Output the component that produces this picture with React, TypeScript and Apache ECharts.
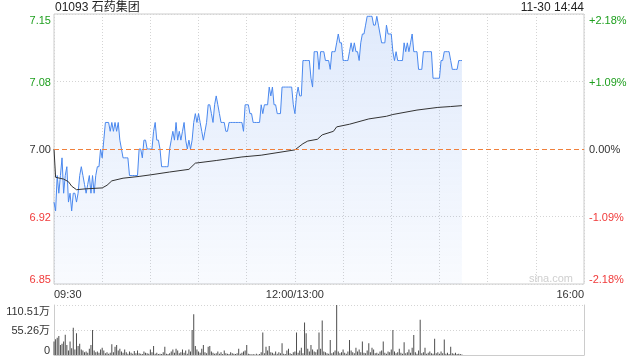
import React, { useEffect, useRef } from "react";
import * as echarts from "echarts";

// ---------- data ----------
const stockTitle = "01093 石药集团";
const stampText = "11-30 14:44";
const prevClose = 7.0;
const timeTickLabels: Record<number, string> = { 0: "09:30", 150: "12:00/13:00", 330: "16:00" };
const volTickLabels = ["0", "55.26万", "110.51万"];
const volMax = 110.51;

// one value per minute (index 0 = 09:30, 150 = 12:00/13:00)
const prices = [
  6.94, 6.93, 6.97, 6.95, 6.97, 6.99, 6.95, 6.97, 6.98, 6.94,
  6.95, 6.93, 6.95, 6.95, 6.94, 6.95, 6.97, 6.98, 6.97, 6.96,
  6.95, 6.96, 6.97, 6.95, 6.97, 6.95, 6.97, 6.98, 6.98, 7.0,
  6.99, 7.01, 7.03, 7.03, 7.03, 7.02, 7.03, 7.02, 7.03, 7.02,
  7.03, 7.01, 7.0, 6.99, 6.99, 6.99, 6.99, 6.97, 6.97, 6.97,
  6.97, 6.97, 6.97, 7.0, 7.0, 6.99, 7.01, 7.01, 7.0, 7.0,
  7.0, 7.0, 7.02, 7.03, 7.01, 7.01, 7.0, 6.98, 6.98, 6.98,
  6.98, 6.98, 7.0, 7.01, 7.02, 7.01, 7.03, 7.01, 7.02, 7.01,
  7.02, 7.03, 7.01, 7.0, 7.01, 7.0, 7.01, 7.03, 7.04, 7.03,
  7.04, 7.03, 7.02, 7.01, 7.02, 7.03, 7.05, 7.05, 7.04, 7.03,
  7.05, 7.06, 7.05, 7.04, 7.03, 7.03, 7.03, 7.02, 7.02, 7.03,
  7.03, 7.03, 7.03, 7.03, 7.03, 7.03, 7.03, 7.03, 7.02, 7.05,
  7.05, 7.05, 7.04, 7.04, 7.03, 7.03, 7.03, 7.03, 7.03, 7.05,
  7.04, 7.05, 7.05, 7.05, 7.07, 7.06, 7.07, 7.05, 7.05, 7.04,
  7.04, 7.04, 7.07, 7.07, 7.07, 7.07, 7.07, 7.07, 7.07, 7.05,
  7.04, 7.06, 7.07, 7.06, 7.06, 7.1, 7.1, 7.1, 7.1, 7.1,
  7.08, 7.07, 7.11, 7.11, 7.11, 7.09, 7.11, 7.11, 7.11, 7.1,
  7.1, 7.1, 7.09, 7.11, 7.11, 7.11, 7.12, 7.13, 7.12, 7.12,
  7.1, 7.1, 7.1, 7.1, 7.11, 7.12, 7.11, 7.12, 7.11, 7.11,
  7.1, 7.12, 7.13, 7.13, 7.14, 7.15, 7.15, 7.15, 7.15, 7.14,
  7.14, 7.15, 7.14, 7.13, 7.12, 7.12, 7.12, 7.14, 7.13, 7.13,
  7.13, 7.11, 7.1, 7.11, 7.1, 7.1, 7.1, 7.1, 7.12, 7.11,
  7.12, 7.11, 7.12, 7.13, 7.11, 7.11, 7.11, 7.09, 7.09, 7.09,
  7.11, 7.11, 7.11, 7.11, 7.11, 7.11, 7.08, 7.08, 7.08, 7.08,
  7.08, 7.1, 7.1, 7.11, 7.11, 7.11, 7.11, 7.1, 7.09, 7.09,
  7.09, 7.09, 7.1, 7.1, 7.1,
];

// average price line, read at [minute, price]
const avgPoints: [number, number][] = [
  [0, 7.0], [1, 6.968], [6, 6.966], [9, 6.963], [11, 6.958], [14, 6.954],
  [20, 6.955], [30, 6.956], [33, 6.959], [36, 6.964], [43, 6.967], [53, 6.969],
  [61, 6.971], [72, 6.974], [84, 6.977], [88, 6.984], [101, 6.987], [117, 6.991],
  [129, 6.993], [150, 6.999], [155, 7.006], [158, 7.009], [164, 7.011], [167, 7.016],
  [174, 7.02], [176, 7.025], [184, 7.028], [196, 7.034], [207, 7.037], [211, 7.039],
  [226, 7.044], [239, 7.047], [247, 7.048], [254, 7.049],
];

// volume per minute, in 万
const volumes = [
  30, 35, 38, 42, 22, 25, 30, 45, 22, 10,
  30, 15, 60, 12, 48, 20, 25, 12, 10, 6,
  8, 5, 14, 22, 55, 10, 6, 8, 5, 12,
  16, 10, 4, 6, 3, 5, 24, 6, 18, 22,
  10, 14, 8, 5, 12, 6, 3, 8, 5, 3,
  9, 4, 10, 4, 3, 2, 8, 5, 4, 3,
  12, 6, 20, 3, 5, 2, 3, 2, 6, 18,
  3, 2, 4, 8, 12, 5, 14, 10, 4, 6,
  12, 5, 10, 3, 12, 8, 55, 90, 20, 12,
  8, 5, 14, 22, 6, 4, 18, 20, 8, 5,
  3, 4, 8, 3, 6, 2, 10, 4, 3, 2,
  6, 4, 3, 2, 4, 14, 3, 5, 8, 10,
  22, 3, 2, 1, 2, 1, 3, 1, 2, 6,
  50, 4, 18, 10, 20, 6, 5, 3, 8, 3,
  6, 4, 26, 3, 2, 10, 14, 4, 2, 6,
  8, 50, 5, 10, 16, 4, 72, 48, 14, 8,
  22, 12, 8, 6, 12, 50, 14, 76, 8, 6,
  4, 3, 33, 4, 6, 10, 110.51, 8, 4, 6,
  12, 5, 3, 8, 33, 10, 6, 4, 16, 8,
  12, 6, 30, 5, 4, 10, 26, 6, 16, 12,
  4, 5, 3, 8, 10, 30, 5, 3, 8, 6,
  12, 55, 8, 4, 6, 14, 5, 3, 28, 4,
  6, 12, 5, 16, 44, 6, 3, 10, 78, 4,
  6, 16, 3, 5, 8, 4, 3, 36, 4, 6,
  3, 8, 4, 34, 3, 5, 2, 18, 4, 3,
  5, 2, 3, 2, 1,
];

const pctLimit = 2.18;
const pctStep = 1.09;

// ---------- chart ----------
const FONT = '"Liberation Sans", Arial, "Noto Sans CJK SC", sans-serif';
const GREEN = "#1e9f1e";
const RED = "#f03a3a";
const pct = (p: number) => ((p - prevClose) / prevClose) * 100;
const near0 = (v: number) => Math.abs(v) < 1e-6;
const signColor = (v: number) => (near0(v) ? "#333" : v > 0 ? GREEN : RED);

export default function App() {
  const ref = useRef<HTMLDivElement>(null);
  useEffect(() => {
    if (!ref.current) return;
    const chart = echarts.init(ref.current, undefined, { renderer: "svg" });
    const option: any = {
      animation: false,
      textStyle: { fontFamily: FONT },
      grid: [
        { left: 54, right: 56, top: 14, height: 270, show: true, borderColor: "#cccccc", borderWidth: 1 },
        { left: 54, right: 56, top: 305, height: 50 },
      ],
      xAxis: [
        {
          type: "value", gridIndex: 0, min: 0, max: 330, interval: 30,
          axisLine: { show: false }, axisTick: { show: false },
          axisLabel: {
            margin: 4, fontSize: 11, color: "#333", fontFamily: FONT,
            showMinLabel: true, showMaxLabel: true,
            alignMinLabel: "left", alignMaxLabel: "right",
            formatter: (v: number) => timeTickLabels[Math.round(v)] ?? "",
          },
          splitLine: { show: true, lineStyle: { color: "#d4d4d4", type: [1, 2], width: 1 } },
        },
        {
          type: "value", gridIndex: 1, min: 0, max: 330, interval: 30,
          axisLine: { show: true, lineStyle: { color: "#cccccc" } },
          axisTick: { show: false }, axisLabel: { show: false }, splitLine: { show: false },
        },
      ],
      yAxis: [
        {
          type: "value", gridIndex: 0, min: -pctLimit, max: pctLimit, interval: pctStep,
          axisLine: { show: false }, axisTick: { show: false },
          axisLabel: {
            margin: 3, fontSize: 11, fontFamily: FONT,
            verticalAlignMaxLabel: "top", verticalAlignMinLabel: "bottom",
            color: (v: any) => signColor(Number(v)),
            formatter: (v: number) => (prevClose * (1 + v / 100)).toFixed(2),
          },
          splitLine: {
            show: true,
            lineStyle: { color: ["#d4d4d4", "#d4d4d4", "rgba(0,0,0,0)", "#d4d4d4", "#d4d4d4"], type: [1, 2], width: 1 },
          },
        },
        {
          type: "value", gridIndex: 0, position: "right", min: -pctLimit, max: pctLimit, interval: pctStep,
          axisLine: { show: false }, axisTick: { show: false }, splitLine: { show: false },
          axisLabel: {
            margin: 5, fontSize: 11, fontFamily: FONT,
            verticalAlignMaxLabel: "top", verticalAlignMinLabel: "bottom",
            color: (v: any) => signColor(Number(v)),
            formatter: (v: number) => (near0(v) ? "0.00%" : (v > 0 ? "+" : "") + v.toFixed(2) + "%"),
          },
        },
        {
          type: "value", gridIndex: 1, min: 0, max: volMax, interval: volMax / 2,
          axisLine: { show: true, lineStyle: { color: "#cccccc" } }, axisTick: { show: false },
          axisLabel: {
            margin: 4, fontSize: 11, color: "#333", fontFamily: FONT,
            verticalAlignMaxLabel: "top", verticalAlignMinLabel: "bottom",
            formatter: (_v: number, i: number) => volTickLabels[i] ?? "",
          },
          splitLine: { show: true, lineStyle: { color: "#d4d4d4", type: [1, 2], width: 1 } },
        },
        {
          type: "value", gridIndex: 1, position: "right", min: 0, max: volMax,
          axisLine: { show: true, lineStyle: { color: "#cccccc" } }, axisTick: { show: false },
          axisLabel: { show: false }, splitLine: { show: false },
        },
      ],
      series: [
        {
          type: "line", xAxisIndex: 0, yAxisIndex: 0,
          data: prices.map((p, i) => [i, pct(p)]),
          showSymbol: false, symbol: "none",
          lineStyle: { color: "#4a88ee", width: 1 },
          areaStyle: {
            origin: "start",
            color: new echarts.graphic.LinearGradient(0, 0, 0, 1, [
              { offset: 0, color: "rgba(70,130,235,0.24)" },
              { offset: 1, color: "rgba(70,130,235,0.05)" },
            ]),
          },
          markLine: {
            silent: true, symbol: "none", label: { show: false }, z: 10,
            lineStyle: { color: "#f0803c", type: [5, 3], width: 1, opacity: 1 },
            data: [{ yAxis: 0 }],
          },
          z: 3,
        },
        {
          type: "line", xAxisIndex: 0, yAxisIndex: 0,
          data: avgPoints.map(([m, p]) => [m, pct(p)]),
          showSymbol: false, symbol: "none",
          lineStyle: { color: "#333333", width: 1 },
          z: 4,
        },
        {
          type: "bar", xAxisIndex: 1, yAxisIndex: 2,
          data: volumes.map((v, i) => [i, v]),
          barWidth: 1,
          itemStyle: { color: "#4d4d4d" },
        },
      ],
      graphic: [
        {
          type: "text", left: 55, top: 1,
          style: { text: stockTitle, fontSize: 12, fill: "#222", fontFamily: FONT },
        },
        {
          type: "text", right: 56, top: 1,
          style: { text: stampText, fontSize: 12, fill: "#222", fontFamily: FONT },
        },
        {
          type: "text", right: 67, top: 272,
          style: { text: "sina.com", fontSize: 11, fill: "#cfcfcf", fontFamily: FONT },
        },
      ],
    };
    chart.setOption(option);
    return () => chart.dispose();
  }, []);
  return <div ref={ref} style={{ position: "fixed", left: 0, top: 0, width: 640, height: 360 }} />;
}
